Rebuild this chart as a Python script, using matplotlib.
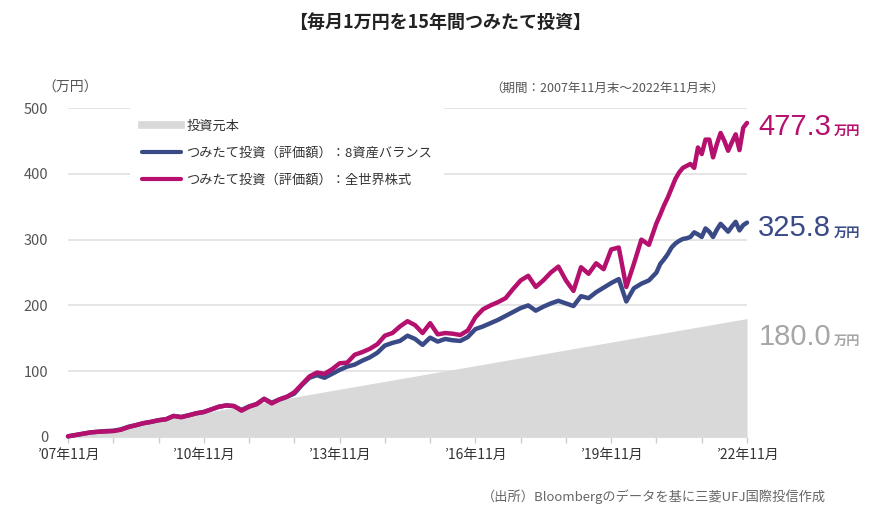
"""毎月1万円を15年間つみたて投資したときの評価額推移"""

import matplotlib
matplotlib.use("Agg")
import matplotlib.pyplot as plt
from matplotlib.lines import Line2D

plt.rcParams['font.family'] = ['Noto Sans CJK JP', 'DejaVu Sans']

# 経過月数（2007年11月末 = 0）
months = list(range(0, 157, 2)) + list(range(157, 181))

# つみたて投資（評価額）：全世界株式（万円）
world_equity = [
    1, 3, 5, 7, 8, 8.5, 9, 11, 15, 18,
    21, 23, 25.5, 27, 32, 30, 33, 36, 38, 42,
    46, 48, 47, 40, 46, 50, 58, 51, 57, 61,
    68, 80, 92, 98, 96, 103, 112, 113, 125, 129,
    134, 141, 154, 158, 168, 176, 170, 158, 173, 156,
    158, 157, 155, 162, 182, 194, 200, 205, 211, 225,
    238, 245, 228, 238, 250, 259, 238, 222, 258, 248,
    264, 255, 285, 288, 228, 263, 300, 292, 325,
    338, 352, 364, 378, 392, 402, 409, 412, 415, 409,
    440, 430, 452, 452, 425, 445, 462, 450, 435, 448,
    460, 436, 470, 477.3,
]

# つみたて投資（評価額）：8資産バランス（万円）
balance_8 = [
    1, 3, 5, 7, 8, 9, 9.5, 11.5, 15.5, 18,
    21, 23, 25.5, 27, 32, 30.5, 33, 36, 38, 42,
    46, 48, 47, 41, 46.5, 50, 58, 52, 57, 61,
    66, 79, 90, 94, 90, 96, 102, 107, 110, 116,
    121, 128, 139, 143, 146, 154, 149, 140, 151, 145,
    149, 147, 146, 152, 164, 168, 173, 178, 184, 190,
    196, 200, 192, 198, 203, 207, 203, 199, 214, 211,
    220, 227, 234, 240, 206, 226, 233, 238, 250,
    263, 270, 278, 288, 294, 298, 301, 302, 304, 311,
    308, 304, 317, 312, 304, 315, 324, 318, 312, 320,
    327, 314, 322, 325.8,
]

# 投資元本（万円）
principal_months = [0, 180]
principal = [1, 180]

x_ticks = [0, 36, 72, 108, 144, 180]
x_labels = ['’07年11月', '’10年11月', '’13年11月', '’16年11月', '’19年11月', '’22年11月']
y_ticks = [0, 100, 200, 300, 400, 500]

PINK = '#B5106E'
NAVY = '#3A4A86'
GRAY = '#D9D9D9'
TEXT = '#555555'

W, H = 886, 521
fig = plt.figure(figsize=(W / 100, H / 100), dpi=100)
ax = fig.add_axes([68 / W, 84 / H, 679 / W, 329 / H])

ax.fill_between(principal_months, 0, principal, color=GRAY, lw=0, zorder=1)
ax.plot(months, balance_8, color=NAVY, lw=3.2, solid_capstyle='round',
        solid_joinstyle='round', zorder=3, clip_on=False)
ax.plot(months, world_equity, color=PINK, lw=3.2, solid_capstyle='round',
        solid_joinstyle='round', zorder=4, clip_on=False)

ax.set_xlim(0, 180)
ax.set_ylim(0, 500)
ax.set_yticks(y_ticks)
ax.set_xticks(list(range(0, 181, 12)))
ax.set_xticklabels([x_labels[x_ticks.index(m)] if m in x_ticks else '' for m in range(0, 181, 12)])
ax.tick_params(axis='y', length=0, pad=14, labelsize=10.5, labelcolor=TEXT)
ax.tick_params(axis='x', length=4, width=1, color='#CCCCCC', pad=4,
               labelsize=10, labelcolor='#333333')
for s in ['top', 'right', 'left']:
    ax.spines[s].set_visible(False)
ax.spines['bottom'].set_color('#DDDDDD')
ax.grid(axis='y', color='#E3E3E3', lw=1.3, zorder=0)
ax.set_axisbelow(True)

# 凡例（白地でグリッド線を隠す）
handles = [
    Line2D([], [], color=GRAY, lw=5.5),
    Line2D([], [], color=NAVY, lw=3, solid_capstyle='round'),
    Line2D([], [], color=PINK, lw=3, solid_capstyle='round'),
]
labels = ['投資元本', 'つみたて投資（評価額）：8資産バランス', 'つみたて投資（評価額）：全世界株式']
leg = ax.legend(handles, labels, loc='upper left', bbox_to_anchor=(130 / W, 1 - 108 / H),
                bbox_transform=fig.transFigure, frameon=True, facecolor='white',
                edgecolor='none', framealpha=1, fancybox=False, fontsize=9.5,
                handlelength=3.0, handletextpad=0.35, labelspacing=1.05,
                borderpad=0.9, borderaxespad=0)
for t in leg.get_texts():
    t.set_color('#333333')
leg.set_zorder(5)

# 右端の数値ラベル
end_labels = [(471, '477.3', PINK), (317, '325.8', NAVY), (152, '180.0', '#A6A6A6')]
for yv, num, col in end_labels:
    t = ax.text(183, yv, num, color=col, fontsize=21, va='center', ha='left',
                family=['Liberation Sans', 'DejaVu Sans'], clip_on=False)
    ax.annotate('万円', xy=(1, 0.1), xycoords=t, xytext=(2, 0), textcoords='offset points',
                color=col, fontsize=9.5, fontweight='bold', va='bottom', ha='left')

fig.text(0.497, 1 - 22 / H, '【毎月1万円を15年間つみたて投資】', ha='center', va='center',
         fontsize=13, fontweight='bold', color='#222222')
fig.text(42 / W, 1 - 88 / H, '（万円）', ha='left', va='center', fontsize=10, color=TEXT)
fig.text(724 / W, 1 - 88 / H, '（期間：2007年11月末～2022年11月末）', ha='right', va='center',
         fontsize=9, color=TEXT)
fig.text(826 / W, 1 - 497 / H, '（出所）Bloombergのデータを基に三菱UFJ国際投信作成',
         ha='right', va='center', fontsize=9.5, color='#666666')

fig.savefig('out.png', dpi=100)
